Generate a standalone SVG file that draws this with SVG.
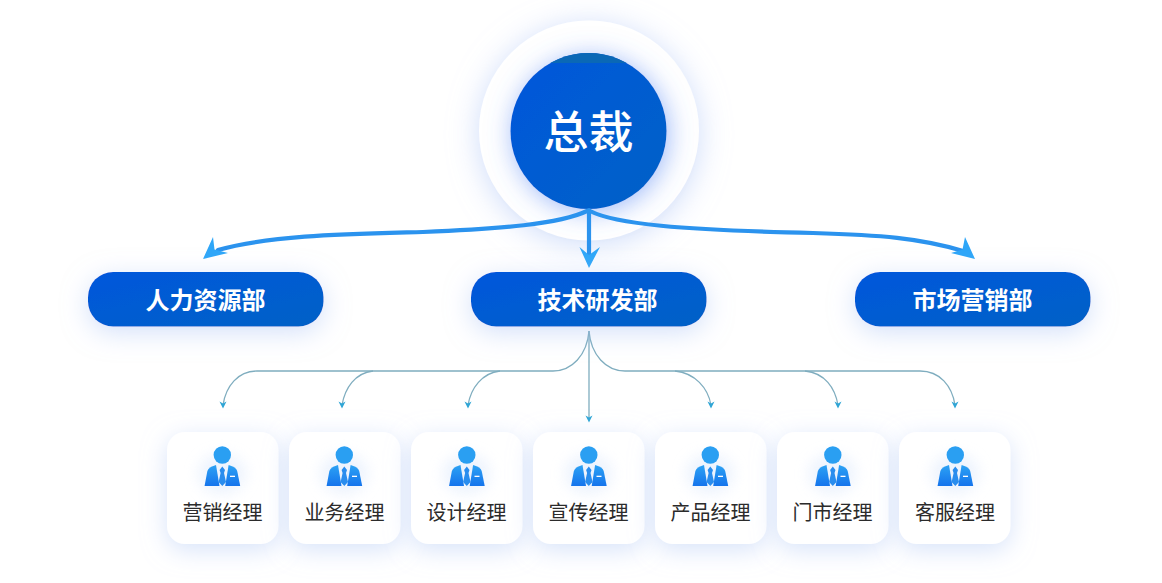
<svg xmlns="http://www.w3.org/2000/svg" width="1162" height="583" viewBox="0 0 1162 583">
<style>
text{font-family:"Noto Sans CJK SC","Noto Sans",sans-serif;text-anchor:middle}
.pill{fill:url(#gBlue);filter:url(#sPill)}
.pillT{fill:#fff;font-size:24px;font-weight:700}
.card{fill:#fff;filter:url(#sCard)}
.cardT{fill:#2b2b2b;font-size:20px;font-weight:400}
.thin{fill:none;stroke:#7fadbf;stroke-width:1.3}
.thinH{fill:#2fa5d6;stroke:none}
.thickLine{fill:none;stroke:#2b93ee;stroke-width:4.200;stroke-linecap:round}
.head{fill:#2ea6f8}
</style>
<defs>
<linearGradient id="gBlue" x1="0" y1="0" x2="1" y2="1"><stop offset="0" stop-color="#0657dc"/><stop offset="1" stop-color="#0561c6"/></linearGradient>
<linearGradient id="gIcon" x1="0" y1="0" x2="0" y2="1"><stop offset="0" stop-color="#2ca2f4"/><stop offset="1" stop-color="#1574ec"/></linearGradient>
<filter id="sOuter" x="-40%" y="-40%" width="180%" height="180%"><feDropShadow dx="0" dy="4" stdDeviation="15" flood-color="#b9cdf8" flood-opacity="0.7"/></filter>
<filter id="sInner" x="-40%" y="-40%" width="180%" height="180%"><feDropShadow dx="2" dy="3" stdDeviation="13" flood-color="#4f82f4" flood-opacity="0.55"/></filter>
<filter id="sPill" x="-20%" y="-80%" width="140%" height="280%"><feDropShadow dx="0" dy="6" stdDeviation="13" flood-color="#a9c2f5" flood-opacity="0.5"/></filter>
<filter id="sCard" x="-40%" y="-40%" width="180%" height="180%"><feDropShadow dx="0" dy="6" stdDeviation="12" flood-color="#b7ccf5" flood-opacity="0.55"/></filter>
<filter id="sIcon" x="-50%" y="-50%" width="200%" height="200%"><feGaussianBlur stdDeviation="7"/></filter>
<clipPath id="cTop"><rect x="540" y="50" width="100" height="13"/></clipPath>
<g id="person">
<ellipse cx="222" cy="474" rx="24" ry="20" fill="#dfeafc" opacity="0.55" filter="url(#sIcon)"/>
<circle cx="222.3" cy="455" r="8.7" fill="#2a9ff2"/>
<path d="M216,465 L219.500,486 H204.600 L207.400,471 Q208.400,467 216,465Z" fill="url(#gIcon)"/>
<path d="M228.600,465 L225.200,486 H240.200 L237.200,471 Q236.200,467 228.600,465Z" fill="url(#gIcon)"/>
<path d="M222.300,466.500 L225,470 L224,473 L226,482 L222.300,486 L218.600,482 L220.600,473 L219.600,470Z" fill="#2a8dee"/>
<rect x="230" y="475.700" width="5" height="1.300" fill="#fff"/>
</g>
</defs>
<rect width="1162" height="583" fill="#fff"/>

<g id="node-ceo">
<circle cx="589" cy="130.500" r="110" fill="#fff" filter="url(#sOuter)"/>
<circle cx="588.500" cy="131" r="78" fill="url(#gBlue)" filter="url(#sInner)"/>
<circle cx="588.500" cy="131" r="78" fill="#0a68b6" clip-path="url(#cTop)"/>
<text x="588.500" y="149" fill="#fff" font-size="45" font-weight="500">总裁</text>
</g>

<g id="connectors">
<path class="thickLine" d="M587,211 C560,224 500,229 423,232 C350,234 270,235 218,250"/>
<path class="head" d="M203,259 L213,237 L214.500,249.500 L228,253 Z"/>
<path class="thickLine" d="M590,211 C615,224 680,230 813,233 C880,235 920,238 963,251"/>
<path class="head" d="M975,259 L965,237 L962.500,249.500 L951,253 Z"/>
<path class="thickLine" d="M589,210 V258"/>
<path class="head" d="M589,268 L579.500,247 L589,255 L600,247Z"/>

<path class="thin" d="M589,331 C587,355 572,371 553,371 H257 C238,371 226,386 223,405"/>
<path class="thin" d="M373,371 C355,373 345,388 342,405"/>
<path class="thin" d="M500,371 C482,373 471,388 468,405"/>
<path class="thin" d="M589,331 V418"/>
<path class="thin" d="M589,331 C591,355 606,371 625,371 H920 C940,371 952,386 955,405"/>
<path class="thin" d="M675,371 C695,373 708,388 711,405"/>
<path class="thin" d="M805,371 C825,373 835,388 838,405"/>
<path class="thinH" d="M223,408.500 L219.500,401.500 L223,403.500 L226.500,401.500ZM342,408.500 L338.500,401.500 L342,403.500 L345.500,401.500ZM468,408.500 L464.500,401.500 L468,403.500 L471.500,401.500ZM589,422.500 L585.500,415.500 L589,417.500 L592.500,415.500ZM711,408.500 L707.500,401.500 L711,403.500 L714.500,401.500ZM838,408.500 L834.500,401.500 L838,403.500 L841.500,401.500ZM955,408.500 L951.500,401.500 L955,403.500 L958.500,401.500Z"/>
</g>

<g id="node-hr"><rect class="pill" x="88" y="272" width="235.500" height="54.500" rx="25"/><text class="pillT" x="205.500" y="309">人力资源部</text></g>
<g id="node-tech"><rect class="pill" x="471" y="272" width="235.500" height="54.500" rx="25"/><text class="pillT" x="597.500" y="309">技术研发部</text></g>
<g id="node-market"><rect class="pill" x="855" y="272" width="235.500" height="54.500" rx="25"/><text class="pillT" x="972.500" y="309">市场营销部</text></g>

<g id="node-m1"><rect class="card" x="167" y="432" width="111.500" height="112" rx="18"/><use href="#person"/><text class="cardT" x="222.500" y="520">营销经理</text></g>
<g id="node-m2"><rect class="card" x="289" y="432" width="111.500" height="112" rx="18"/><use href="#person" x="122"/><text class="cardT" x="344.500" y="520">业务经理</text></g>
<g id="node-m3"><rect class="card" x="411" y="432" width="111.500" height="112" rx="18"/><use href="#person" x="244.500"/><text class="cardT" x="466.500" y="520">设计经理</text></g>
<g id="node-m4"><rect class="card" x="533" y="432" width="111.500" height="112" rx="18"/><use href="#person" x="366.500"/><text class="cardT" x="588.500" y="520">宣传经理</text></g>
<g id="node-m5"><rect class="card" x="655" y="432" width="111.500" height="112" rx="18"/><use href="#person" x="488"/><text class="cardT" x="710.500" y="520">产品经理</text></g>
<g id="node-m6"><rect class="card" x="777" y="432" width="111.500" height="112" rx="18"/><use href="#person" x="610.500"/><text class="cardT" x="832.500" y="520">门市经理</text></g>
<g id="node-m7"><rect class="card" x="899" y="432" width="111.500" height="112" rx="18"/><use href="#person" x="733"/><text class="cardT" x="955" y="520">客服经理</text></g>
</svg>
